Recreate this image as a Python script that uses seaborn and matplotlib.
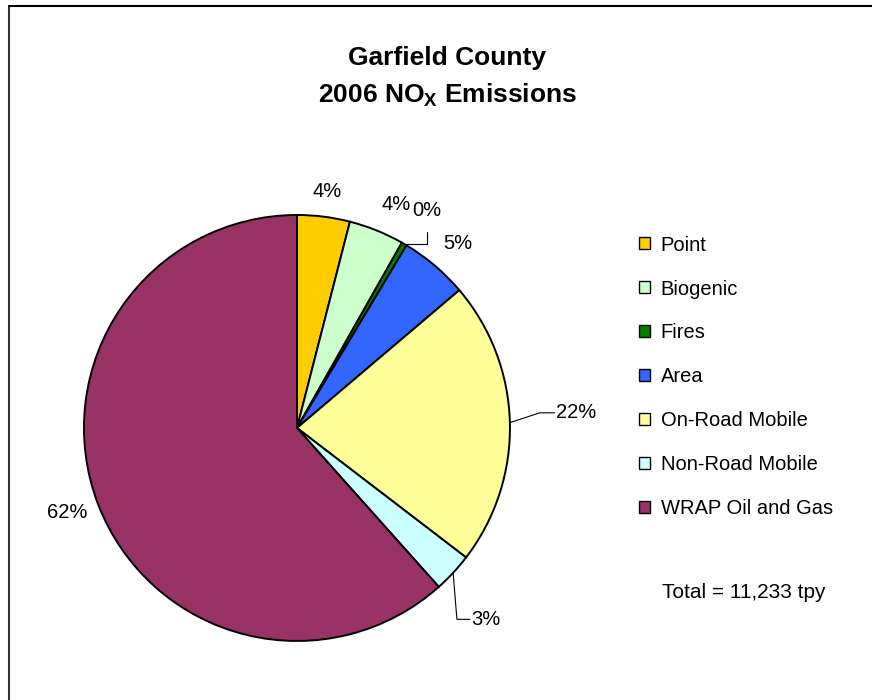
import numpy as np
import matplotlib
matplotlib.use("Agg")
import matplotlib.pyplot as plt
import seaborn as sns

# NOx emission share by source category (percent)
sources = ["Point", "Biogenic", "Fires", "Area", "On-Road Mobile",
           "Non-Road Mobile", "WRAP Oil and Gas"]
shares = [4.0, 4.2, 0.4, 5.2, 21.6, 3.0, 61.6]
colors = ["#FFCC00", "#CCFFCC", "#008000", "#3366FF", "#FFFF99",
          "#CCFFFF", "#993366"]
total_label = "Total = 11,233 tpy"

sns.set_theme(style="white")
plt.rcParams["font.family"] = ["Liberation Sans", "DejaVu Sans"]
plt.rcParams["text.color"] = "black"
plt.rcParams["mathtext.fontset"] = "custom"
plt.rcParams["mathtext.bf"] = "Liberation Sans:bold"
plt.rcParams["mathtext.rm"] = "Liberation Sans"

fig = plt.figure(figsize=(8.72, 7), dpi=100)
ax = fig.add_axes([0.0963, 0.0843, 0.4885, 0.6086])

wedges, _ = ax.pie(shares, colors=sns.color_palette(colors), startangle=90,
                   counterclock=False, radius=1,
                   wedgeprops=dict(edgecolor="black", linewidth=1.4))
ax.set_xlim(-1, 1)
ax.set_ylim(-1, 1)
ax.set_aspect("equal")
ax.axis("off")

# label placement: (radius, angle nudge in degrees)
lab_r = [1.12, 1.15, 1.19, 1.15, 1.30, 1.27, 1.15]
lab_da = [0.0, -2.0, -0.7, -0.7, 1.7, -2.2, -0.6]
pct = [round(s / sum(shares) * 100) for s in shares]

for i, w in enumerate(wedges):
    mid = np.deg2rad((w.theta1 + w.theta2) / 2)
    ang = mid + np.deg2rad(lab_da[i])
    tx, ty = lab_r[i] * np.cos(ang), lab_r[i] * np.sin(ang)
    ex, ey = np.cos(mid), np.sin(mid)
    txt = f"{pct[i]}%"
    if sources[i] == "Fires":
        ax.plot([ex, tx, tx], [ey, ey, ty - 0.1], color="black", lw=0.8,
                clip_on=False)
        ax.text(tx, ty, txt, ha="center", va="center", fontsize=14.5)
    elif sources[i] == "On-Road Mobile":
        ax.plot([ex, 1.14, 1.21], [ey, ty, ty], color="black", lw=0.8,
                clip_on=False)
        ax.text(1.215, ty, txt, ha="left", va="center", fontsize=14.5)
    elif sources[i] == "Non-Road Mobile":
        ax.plot([ex, 0.751, 0.812], [ey, ty, ty], color="black", lw=0.8,
                clip_on=False)
        ax.text(0.82, ty, txt, ha="left", va="center", fontsize=14.5)
    else:
        ax.text(tx, ty, txt, ha="center", va="center", fontsize=14.5)

fig.text(0.513, 0.917, "Garfield County", ha="center", va="center",
         fontsize=19, fontweight="bold")
fig.text(0.513, 0.864, r"2006 NO$_{\mathbf{X}}$ Emissions", ha="center",
         va="center", fontsize=19, fontweight="bold")

handles = [plt.Rectangle((0, 0), 1, 1, facecolor=c, edgecolor="black",
                         linewidth=1.0) for c in colors]
fig.legend(handles, sources, loc="upper left",
           bbox_to_anchor=(0.724, 0.675), frameon=False, fontsize=14.5,
           handlelength=0.55, handleheight=0.55, handletextpad=0.5,
           labelspacing=1.24, borderaxespad=0)

fig.text(0.759, 0.153, total_label, ha="left", va="center", fontsize=15)

# chart frame (left and top edges visible)
fig.add_artist(plt.Line2D([0.0103, 0.0103], [0, 0.991], color="#333333",
                          lw=1.5, transform=fig.transFigure))
fig.add_artist(plt.Line2D([0.0103, 1.0], [0.991, 0.991], color="black",
                          lw=1.5, transform=fig.transFigure))

fig.savefig("out.png", dpi=100, facecolor="white")
